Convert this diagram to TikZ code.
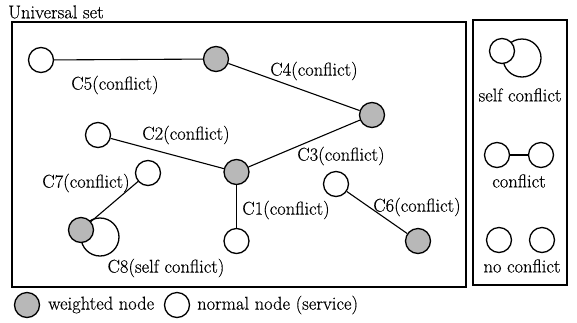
\documentclass[tikz,border=0pt]{standalone}
\usepackage{fontspec}
\setmainfont{Latin Modern Roman}[FakeBold=0.4]
\begin{document}
\begin{tikzpicture}[x=1pt,y=-1pt,
  normal/.style={circle,draw,line width=1.3pt,minimum size=25pt,inner sep=0pt,fill=white},
  weighted/.style={normal,fill=black!28},
  selfring/.style={circle,draw,line width=1.3pt,minimum size=38pt,inner sep=0pt},
  lbl/.style={font=\rmfamily\fontsize{18.5}{21}\selectfont,inner sep=0pt},
  conn/.style={line width=1.1pt},
  framebox/.style={draw,line width=1.2pt}]
\useasboundingbox (0,0) rectangle (577,322);
% frames
\coordinate (ua) at (12,22); \coordinate (ub) at (466,287);
\draw[framebox] (ua) rectangle (ub);
\coordinate (ra) at (473,20); \coordinate (rb) at (567,285);
\draw[framebox] (ra) rectangle (rb);
\node[lbl,anchor=west] (title) at (8,12) {Universal set};
% graph nodes
\node[normal] (n1) at (41,60) {};
\node[weighted] (n2) at (216,59) {};
\node[weighted] (n3) at (372,115) {};
\node[normal] (n4) at (98,135) {};
\node[weighted] (n5) at (236.5,172) {};
\node[normal] (n6) at (148,173) {};
\node[selfring] (s7) at (100,237) {};
\node[weighted] (n7) at (81,230) {};
\node[normal] (n8) at (236.5,241) {};
\node[normal] (n9) at (336,184) {};
\node[weighted] (n10) at (418,241) {};
% connectors
\draw[conn] (n1) -- (n2);
\draw[conn] (n2) -- (n3);
\draw[conn] (n3) -- (n5);
\draw[conn] (n4) -- (n5);
\draw[conn] (n5) -- (n8);
\draw[conn] (n6) -- (n7);
\draw[conn] (n9) -- (n10);
% labels
\node[lbl] (c5) at (115,85) {C5(conflict)};
\node[lbl] (c4) at (314,71) {C4(conflict)};
\node[lbl] (c2) at (186,135) {C2(conflict)};
\node[lbl] (c3) at (341,156) {C3(conflict)};
\node[lbl] (c7) at (86,183) {C7(conflict)};
\node[lbl] (c8) at (166,268) {C8(self conflict)};
\node[lbl] (c1) at (286,210) {C1(conflict)};
\node[lbl] (c6) at (417,207) {C6(conflict)};
% right panel
\node[selfring] (rs) at (522,58) {};
\node[normal] (rn) at (502,51) {};
\node[lbl] (lself) at (520,95) {self conflict};
\node[normal] (ca) at (497,155) {};
\node[normal] (cb) at (541,155) {};
\draw[conn] (ca) -- (cb);
\node[lbl] (lconf) at (519,181) {conflict};
\node[normal] (na) at (499,240) {};
\node[normal] (nb) at (542,240) {};
\node[lbl] (lnone) at (522,266) {no conflict};
% legend
\node[weighted] (lw) at (27,305) {};
\node[lbl,anchor=west] (lwt) at (48,305) {weighted node};
\node[normal] (ln) at (177,305) {};
\node[lbl,anchor=west] (lnt) at (197,305) {normal node (service)};
\end{tikzpicture}
\end{document}
